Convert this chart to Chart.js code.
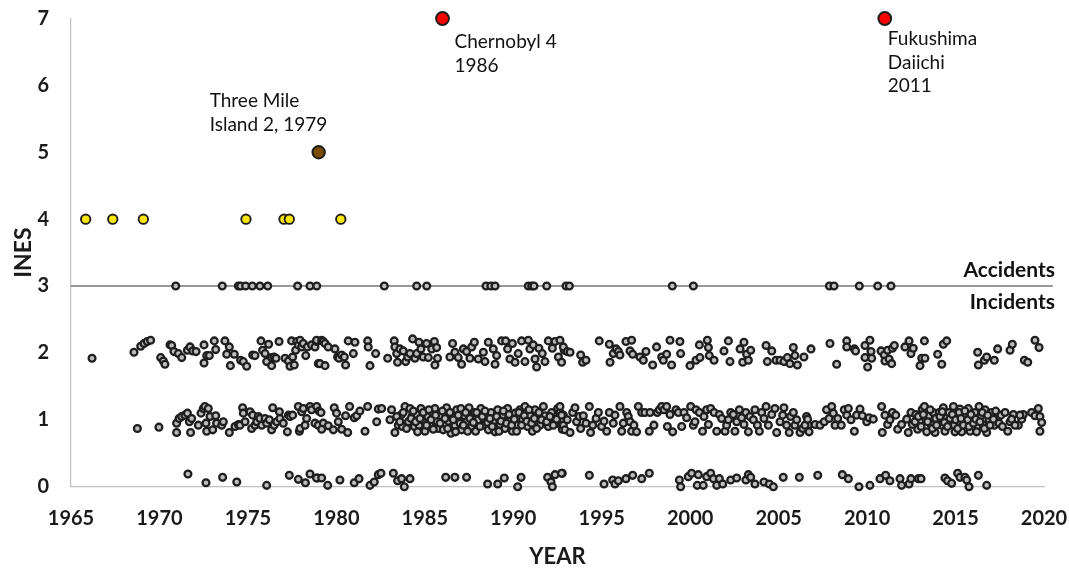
<!DOCTYPE html>
<html>
<head>
<meta charset="utf-8">
<script src="https://cdn.jsdelivr.net/npm/chart.js@4.4.1/dist/chart.umd.min.js"></script>
<style>
html,body{margin:0;padding:0;background:#fff;}
</style>
</head>
<body>
<canvas id="c" width="1069" height="568"></canvas>
<script>
// ---------- DATA (year, INES level) ----------
const xTickYears = [1965, 1970, 1975, 1980, 1985, 1990, 1995, 2000, 2005, 2010, 2015, 2020];
const yTickLevels = [0, 1, 2, 3, 4, 5, 6, 7];

const ines7Points = [[1986, 7], [2011, 7]];
const ines5Points = [[1979, 5]];
const ines4Points = [[1965.83, 4], [1967.36, 4], [1969.09, 4], [1974.89, 4], [1977.04, 4], [1977.34, 4], [1980.25, 4]];
const ines3Points = [[1970.92,3],[1973.55,3],[1974.46,3],[1974.59,3],[1974.87,3],[1975.25,3],[1975.68,3],[1976.12,3],[1977.81,3],[1978.51,3],[1978.89,3],
[1982.71,3],[1984.54,3],[1985.11,3],[1988.46,3],[1988.73,3],[1988.97,3],[1990.85,3],[1991.04,3],[1991.17,3],[1991.89,3],[1992.98,3],[1993.17,3],[1998.99,3],[2000.18,3],
[2007.87,3],[2008.13,3],[2009.56,3],[2010.60,3],[2011.35,3]];

const ines2Points = [
[1966.19,1.92],[1968.56,2.01],[1968.94,2.10],[1969.13,2.14],[1969.31,2.17],[1969.50,2.19],[1970.07,1.93],[1970.22,1.88],[1970.31,1.83],[1970.60,2.12],[1970.69,2.11],[1970.82,2.02],[1971.07,1.99],[1971.26,1.93],[1971.58,2.04],[1971.73,2.09],[1971.88,2.03],[1972.07,2.02],[1972.52,2.12],[1972.52,1.85],[1972.67,1.96],[1972.82,1.96],[1973.10,2.18],[1973.18,2.05],[1973.70,2.18],[1973.80,1.98],[1973.95,2.09],[1974.01,1.81],[1974.23,1.98],[1974.59,1.89],[1974.74,1.87],[1974.93,1.80],[1975.27,1.97],[1975.40,1.96],[1975.74,2.18],[1975.83,2.04],[1975.97,1.99],[1976.06,1.87],[1976.17,2.13],[1976.34,1.93],[1976.34,1.81],[1976.48,1.94],[1976.59,1.92],[1976.76,2.17],[1977.10,1.92],[1977.29,1.88],[1977.38,1.80],[1977.47,2.18],[1977.53,1.94],[1977.62,1.82],[1977.70,2.04],[1977.76,2.17],[1977.85,2.12],[1977.95,2.19],[1978.04,2.09],[1978.13,2.14],[1978.27,1.96],[1978.36,2.09],[1978.60,2.12],[1978.79,2.09],[1978.89,2.17],[1978.98,1.84],
[1978.88,2.19],[1979.17,2.19],[1979.26,2.17],[1979.36,2.14],[1979.54,2.09],[1979.07,1.84],[1979.36,1.81],[1979.92,2.06],[1980.07,1.94],[1980.15,1.92],[1980.30,1.97],[1980.45,1.94],[1980.52,1.82],[1980.67,2.18],[1980.96,1.99],[1981.05,2.16],[1981.77,2.18],[1981.80,2.09],[1981.90,1.81],[1982.22,1.99],[1982.90,1.92],[1983.27,2.18],[1983.31,2.09],[1983.41,1.99],[1983.46,1.86],[1983.59,2.06],[1983.78,2.03],[1983.92,1.87],[1984.03,1.94],[1984.16,1.99],[1984.31,2.21],[1984.44,1.92],[1984.54,1.99],[1984.67,2.16],[1984.78,2.06],[1984.91,1.94],[1985.10,2.14],[1985.20,1.93],[1985.39,2.06],[1985.54,2.17],[1985.67,2.08],[1985.57,1.82],[1985.72,1.92],[1986.42,1.94],[1986.57,2.14],[1986.70,2.01],[1986.89,1.93],[1987.08,1.83],[1987.18,2.06],[1987.36,2.02],[1987.55,1.92],[1987.65,2.09],[1987.80,2.16],[1988.02,1.91],[1988.31,2.01],[1988.40,1.87],[1988.59,2.16],[1988.87,2.06],[1988.97,1.83],[1989.06,1.96],[1989.34,2.18],[1989.57,2.18],[1989.68,2.06],[1989.81,1.91],[1989.95,2.14],[1990.10,1.86],[1990.28,1.99],[1990.47,2.18],[1990.66,1.87],[1990.85,2.19],[1990.94,2.06],[1991.13,2.12],[1991.23,1.91],[1991.32,1.79],[1991.45,2.07],[1991.64,1.99],[1991.79,1.87],[1991.98,2.18],[1992.21,2.07],[1992.36,2.17],[1992.55,1.94],[1992.73,1.86],[1992.88,2.04],
[1992.64,2.19],[1992.83,2.09],[1993.05,2.02],[1993.21,2.01],[1993.81,1.97],[1993.92,1.86],[1994.11,1.89],[1994.86,2.18],[1995.43,2.13],[1995.47,1.86],[1995.65,1.99],[1995.81,2.06],[1995.94,2.02],[1996.03,1.97],[1996.37,2.17],[1996.69,2.19],[1996.60,2.03],[1996.75,1.98],[1997.16,1.94],[1997.35,1.89],[1997.50,2.02],[1997.88,1.82],[1998.10,2.09],[1998.39,1.94],[1998.48,1.89],[1998.67,1.98],[1998.86,2.19],[1998.95,1.82],[1999.42,2.17],[1999.46,1.99],[1999.99,1.81],[2000.33,1.89],[2000.52,2.12],[2000.55,1.93],[2000.97,2.19],[2001.03,2.08],[2001.08,1.96],[2001.35,1.89],[2001.91,2.03],[2002.16,2.18],[2002.25,1.87],[2002.82,2.06],[2002.97,1.86],[2003.04,2.16],[2003.19,1.98],[2003.29,1.89],[2003.42,2.04],[2004.29,2.11],[2004.36,1.87],[2004.61,2.03],[2004.85,1.89],[2005.08,1.89],[2005.30,1.87],[2005.49,1.93],[2005.64,1.84],[2005.83,2.08],[2005.92,1.96],[2006.06,1.82],[2006.43,1.94],
[2006.83,2.06],[2007.90,2.14],[2008.28,1.83],[2008.85,2.18],[2008.85,2.09],[2009.28,2.06],[2009.35,2.03],[2009.88,2.11],[2009.88,1.93],[2010.03,1.79],[2010.16,2.19],[2010.22,2.02],[2010.26,1.92],[2010.79,2.03],[2010.97,1.97],[2011.01,1.88],[2011.16,2.04],[2011.24,1.91],[2011.39,1.84],[2011.43,2.07],[2011.54,2.11],[2012.14,2.09],[2012.37,2.18],[2012.48,1.99],[2012.61,2.07],[2012.99,1.81],[2013.09,1.92],[2013.24,2.18],[2013.27,1.92],[2013.99,1.98],[2014.22,1.83],[2014.31,2.13],[2014.50,2.18],[2016.25,2.01],[2016.29,1.82],[2016.63,1.89],[2016.76,1.94],[2017.19,1.89],[2017.38,2.06],[2018.08,2.04],[2018.21,2.13],[2018.89,1.89],[2019.08,1.86],[2019.49,2.19],[2019.72,2.08]
];

const ines1Points = [
[1968.75,0.87],[1969.97,0.89],[1970.97,0.81],[1970.97,0.95],[1971.11,1.02],[1971.26,1.05],[1971.44,1.07],[1971.58,1.10],[1971.69,0.97],[1971.82,1.02],[1971.76,0.81],[1972.20,0.92],[1972.35,1.10],[1972.48,1.17],[1972.57,1.20],[1972.67,0.83],[1972.76,1.17],[1972.86,1.05],[1972.63,0.95],[1973.01,0.85],[1973.18,1.06],[1973.23,0.95],[1973.52,0.92],[1973.61,0.97],[1973.95,0.81],[1974.27,0.90],[1974.46,0.93],[1974.55,0.92],[1974.70,1.18],[1974.74,1.10],[1974.84,0.97],[1975.12,1.12],[1975.21,0.87],[1975.27,1.07],[1975.40,0.92],[1975.50,0.97],[1975.59,1.05],[1975.68,1.02],[1975.78,0.92],[1975.97,1.02],[1976.06,0.95],[1976.21,1.00],[1976.34,0.85],[1976.40,1.18],[1976.48,0.92],[1976.63,0.97],[1976.78,1.12],[1976.81,1.02],[1977.00,0.95],[1977.23,0.82],[1977.29,1.07],[1977.38,1.05],[1977.53,1.07],[1977.85,1.20],[1977.91,0.83],[1977.95,0.87],[1978.04,1.12],[1978.13,1.17],[1978.23,0.92],[1978.32,1.02],[1978.51,1.20],[1978.60,1.15],[1978.79,0.95],[1978.98,0.92],[1978.89,1.20],
[1979.02,1.13],[1979.13,1.11],[1979.26,0.95],[1979.17,0.86],[1979.54,0.91],[1979.83,0.85],[1979.88,1.18],[1980.01,1.10],[1980.11,0.97],[1980.30,0.86],[1980.52,1.06],[1980.64,0.81],[1980.75,1.20],[1981.01,1.03],[1981.15,1.06],[1981.33,1.13],[1981.62,0.83],[1981.77,1.20],[1982.28,0.97],[1982.37,1.16],[1982.56,1.17],[1983.03,1.00],[1983.12,1.15],[1983.31,0.81],[1983.50,0.92],[1983.65,1.07],[1983.73,0.90],[1983.88,1.20],[1984.07,0.97],[1984.16,1.17],[1984.29,1.06],[1984.41,0.90],[1984.54,1.08],[1984.67,0.92],[1984.78,1.17],[1984.86,1.00],[1985.01,0.83],[1985.16,1.05],[1985.29,0.92],[1985.42,1.11],[1985.57,1.17],[1985.67,0.98],[1985.76,0.87],[1985.91,1.06],[1986.04,0.85],[1986.23,1.18],[1986.33,0.98],[1986.48,0.80],[1986.55,1.07],[1986.70,0.92],[1986.80,1.15],[1986.99,0.95],[1987.08,0.85],[1987.23,1.06],[1987.36,0.97],[1987.50,1.18],[1987.65,0.90],[1987.80,1.11],[1987.87,0.83],[1988.02,1.00],[1988.17,1.17],[1988.31,0.92],[1988.44,1.06],[1988.59,0.85],[1988.74,1.11],[1988.87,0.97],[1988.97,0.82],[1989.12,1.15],[1989.25,0.93],[1989.38,1.06],[1989.53,0.87],[1989.68,1.17],[1989.81,1.00],[1989.95,0.83],[1990.10,1.10],[1990.25,0.92],[1990.38,1.15],[1990.51,1.00],[1990.66,1.20],[1990.81,0.90],[1990.94,1.07],[1991.08,0.83],[1991.23,1.15],[1991.38,0.97],[1991.51,0.92],[1991.70,1.20],[1991.79,1.06],[1991.98,0.90],[1992.17,1.11],[1992.36,0.97],[1992.51,1.17],[1992.70,0.92],[1992.83,1.07],
[1983.41,1.05],[1983.59,0.97],[1983.78,1.11],[1983.97,0.87],[1984.22,1.02],[1984.35,1.13],[1984.48,0.97],[1984.59,0.82],[1984.73,1.02],[1984.91,1.11],[1985.10,0.92],[1985.23,1.15],[1985.35,1.00],[1985.48,0.86],[1985.61,1.07],[1985.86,0.95],[1985.99,1.13],[1986.14,1.02],[1986.29,0.87],[1986.42,1.11],[1986.61,1.00],[1986.74,0.82],[1986.89,1.07],[1987.04,1.17],[1987.18,0.92],[1987.31,1.11],[1987.42,0.83],[1987.55,1.02],[1987.74,0.96],[1987.93,1.11],[1988.12,0.90],[1988.25,1.05],[1988.40,1.13],[1988.55,0.96],[1988.68,1.02],[1988.81,0.90],[1989.06,1.05],[1989.19,0.83],[1989.30,0.98],[1989.44,1.13],[1989.62,0.95],[1989.76,1.08],[1989.91,0.92],[1990.06,1.01],[1990.19,0.83],[1990.32,1.11],[1990.47,0.92],[1990.62,1.06],[1990.76,0.98],[1990.89,1.15],[1991.04,0.95],[1991.19,1.02],[1991.32,0.87],[1991.45,1.11],[1991.60,1.00],[1991.89,0.97],[1992.07,1.05],[1992.26,0.92],[1992.45,1.01],[1992.64,1.11],[1992.77,0.86],
[1992.64,1.20],[1992.73,1.07],[1992.83,0.92],[1992.92,0.85],[1993.05,1.00],[1993.21,0.81],[1993.36,1.11],[1993.49,1.18],[1993.58,0.97],[1993.73,1.05],[1993.81,0.87],[1993.96,1.06],[1994.11,0.95],[1994.30,1.20],[1994.37,0.81],[1994.49,0.92],[1994.68,1.02],[1994.81,1.11],[1994.99,0.90],[1995.13,0.98],[1995.28,0.83],[1995.43,1.11],[1995.65,0.95],[1995.75,1.07],[1996.03,1.20],[1996.13,0.83],[1996.22,0.95],[1996.41,1.11],[1996.50,1.05],[1996.60,0.97],[1996.69,0.83],[1996.82,0.92],[1996.97,0.82],[1997.07,1.20],[1997.26,1.11],[1997.44,1.11],[1997.73,1.11],[1997.69,0.83],[1997.95,0.92],[1998.14,1.11],[1998.26,1.15],[1998.39,1.20],[1998.52,1.15],[1998.67,1.20],[1998.71,0.90],[1998.86,1.08],[1999.01,0.82],[1999.20,1.15],[1999.33,1.11],[1999.52,0.90],[1999.65,1.11],[1999.80,1.03],[2000.03,1.20],[2000.18,0.92],[2000.27,0.97],[2000.33,1.15],[2000.52,1.11],[2000.70,0.83],[2000.78,1.05],[2000.93,1.15],[2001.03,0.93],[2001.16,1.17],[2001.35,1.11],[2001.50,0.83],[2001.65,1.08],[2001.78,1.02],[2001.97,0.83],[2002.06,0.92],[2002.16,1.00],[2002.29,1.11],[2002.44,1.08],[2002.53,0.83],[2002.63,0.97],[2002.78,1.15],[2002.91,1.03],[2003.04,0.93],[2003.15,1.11],[2003.29,0.82],[2003.38,1.05],[2003.57,1.00],[2003.66,1.15],[2003.80,0.92],[2003.91,0.83],[2004.04,1.11],[2004.17,1.02],[2004.29,1.20],[2004.42,0.92],[2004.61,1.08],[2004.79,1.17],[2004.89,0.81],[2005.08,0.97],[2005.23,1.07],[2005.30,1.18],[2005.45,0.92],[2005.60,0.81],[2005.68,1.05],[2005.83,1.11],[2005.92,0.92],[2006.02,1.00],[2006.21,0.81],[2006.36,0.87],[2006.58,1.05],[2006.68,0.92],
[2006.49,0.92],[2006.64,1.01],[2006.72,0.82],[2007.06,0.93],[2007.34,0.92],[2007.58,0.97],[2007.71,1.15],[2007.85,1.02],[2008.00,1.20],[2008.09,1.10],[2008.19,0.92],[2008.34,1.02],[2008.54,0.92],[2008.71,1.15],[2008.85,1.07],[2008.94,1.17],[2009.09,1.00],[2009.28,0.83],[2009.41,1.07],[2009.60,1.16],[2009.73,1.06],[2009.98,0.97],[2010.11,1.03],[2010.35,1.01],[2010.82,1.20],[2010.86,0.81],[2011.01,1.07],[2011.16,0.93],[2011.29,1.00],[2011.43,1.11],[2011.62,1.07],[2011.73,0.86],[2011.95,0.93],[2012.24,1.01],[2012.33,0.81],[2012.48,1.11],[2012.56,0.93],[2012.75,1.08],[2012.86,0.86],[2012.99,0.97],[2013.12,1.16],[2013.24,1.20],[2013.31,1.02],[2013.37,0.82],[2013.50,1.06],[2013.61,0.93],[2013.74,1.11],[2013.84,0.81],[2013.99,1.00],[2014.07,1.11],[2014.22,0.92],[2014.31,1.18],[2014.40,0.83],[2014.50,1.03],[2014.63,1.11],[2014.74,0.93],[2014.88,1.20],[2014.97,0.82],[2015.06,1.07],[2015.16,0.97],[2015.25,1.16],[2015.35,0.82],[2015.50,1.05],[2015.63,0.93],[2015.72,1.17],[2015.82,0.83],[2015.95,1.01],[2016.10,1.11],[2016.25,0.91],[2016.33,1.20],[2016.44,1.06],[2016.57,0.92],[2016.67,1.15],[2016.76,0.81],[2016.89,1.00],[2017.04,1.11],[2017.19,0.92],[2017.38,1.02],[2017.57,1.07],[2017.80,1.11],[2017.95,0.83],[2018.08,0.97],[2018.27,1.08],[2018.55,0.92],[2018.74,1.01],[2018.83,1.08],[2019.30,1.11],[2019.49,1.06],[2019.68,1.17],[2019.77,1.05],[2019.87,0.96],[2019.77,0.83],
[2012.71,0.97],[2012.90,1.05],[2013.05,0.90],[2013.18,1.08],[2013.42,0.97],[2013.56,1.15],[2013.69,0.87],[2013.88,1.02],[2013.93,0.92],[2014.12,1.05],[2014.25,1.12],[2014.37,0.96],[2014.55,0.90],[2014.69,1.02],[2014.82,1.08],[2014.93,0.92],[2015.01,1.00],[2015.12,0.87],[2015.20,1.11],[2015.31,1.02],[2015.44,0.92],[2015.53,1.13],[2015.69,1.00],[2015.76,0.90],[2015.87,1.08],[2016.01,0.95],[2016.14,1.01],[2016.19,0.82],[2016.38,0.97],[2016.51,1.11],[2016.63,0.87],[2016.82,1.07],[2016.95,0.92],[2017.14,1.01],[2017.27,1.13],[2017.46,0.95],[2017.65,0.90],[2018.17,1.01],[2018.36,0.92],[2018.64,1.07]
];

const ines0Points = [
[1971.61,0.19],[1972.63,0.06],[1973.57,0.14],[1974.37,0.07],[1976.06,0.02],[1977.34,0.17],[1977.85,0.11],[1978.25,0.06],[1978.51,0.19],[1978.93,0.13],
[1978.88,0.13],[1979.17,0.13],[1979.51,0.02],[1980.20,0.10],[1981.01,0.06],[1981.28,0.12],[1981.90,0.02],[1982.14,0.07],[1982.37,0.18],[1982.52,0.20],[1983.22,0.20],[1983.46,0.09],[1983.69,0.12],[1983.84,0.00],[1984.16,0.12],[1986.18,0.14],[1986.70,0.14],[1987.36,0.14],[1988.55,0.04],[1989.12,0.04],[1989.49,0.13],[1990.25,0.00],[1990.44,0.14],[1991.94,0.14],[1992.13,0.07],[1992.21,0.00],[1992.36,0.18],[1992.77,0.20],
[1992.73,0.20],[1994.30,0.17],[1995.13,0.04],[1995.62,0.10],[1995.75,0.04],[1995.94,0.09],[1996.37,0.12],[1996.75,0.17],[1997.26,0.12],[1997.69,0.20],[1999.39,0.10],[1999.46,0.00],[1999.89,0.15],[2000.08,0.20],[2000.46,0.18],[2000.40,0.02],[2000.74,0.02],[2000.93,0.15],[2001.16,0.20],[2001.31,0.12],[2001.50,0.02],[2001.65,0.12],[2001.84,0.04],[2002.29,0.10],[2002.63,0.13],[2003.15,0.10],[2003.29,0.18],[2003.42,0.14],[2003.66,0.04],[2004.17,0.07],[2004.47,0.04],[2004.70,0.00],[2005.26,0.14],[2006.17,0.14],
[2007.21,0.17],[2008.60,0.18],[2008.94,0.12],[2009.54,0.00],[2010.16,0.02],[2010.73,0.12],[2011.05,0.17],[2011.29,0.09],[2011.86,0.12],[2011.95,0.02],[2012.37,0.04],[2012.48,0.12],[2012.90,0.12],[2013.05,0.12],[2014.40,0.13],[2014.55,0.09],[2014.78,0.05],[2015.12,0.20],[2015.25,0.14],[2015.53,0.14],[2015.63,0.10],[2015.76,0.00],[2016.29,0.17],[2016.76,0.02]
];

const thresholdLine = [[1965, 3], [2020.5, 3]];
const eventLabels = [
  ["Three Mile", "Island 2, 1979"],
  ["Chernobyl 4", "1986"],
  ["Fukushima", "Daiichi", "2011"]
];
const zoneLabels = ["Accidents", "Incidents"];

// ---------- CHART ----------
const toXY = arr => arr.map(p => ({x: p[0], y: p[1]}));
const EDGE = '#1e1e1e';
const FONT = "Lato, 'Open Sans', sans-serif";

const annotate = {
  id: 'annotate',
  afterDatasetsDraw(chart) {
    const {ctx, scales: {x, y}} = chart;
    ctx.save();
    ctx.fillStyle = '#111111';
    ctx.textBaseline = 'middle';
    ctx.textAlign = 'left';
    ctx.font = "19px " + FONT;
    const lh = 23.5;
    const anchors = [
      {p: ines5Points[0], dx: -109, dy: -51},
      {p: ines7Points[0], dx: 12, dy: 23.5},
      {p: ines7Points[1], dx: 3, dy: 20.5}
    ];
    anchors.forEach((a, i) => {
      const px = x.getPixelForValue(a.p[0]);
      const py = y.getPixelForValue(a.p[1]);
      eventLabels[i].forEach((t, k) => ctx.fillText(t, px + a.dx, py + a.dy + k * lh));
    });
    ctx.font = "bold 21px " + FONT;
    ctx.textAlign = 'right';
    const ly = y.getPixelForValue(thresholdLine[0][1]);
    ctx.fillText(zoneLabels[0], 1055, ly - 16);
    ctx.fillText(zoneLabels[1], 1055, ly + 16);
    ctx.restore();
  }
};

function grayDs(pts) {
  return {type: 'scatter', data: toXY(pts), backgroundColor: '#bdbdbd', borderColor: EDGE,
    borderWidth: 2.3, pointRadius: 3.4, pointHoverRadius: 3.4, clip: false, order: 1};
}

new Chart(document.getElementById('c'), {
  type: 'scatter',
  data: {
    datasets: [
      {data: toXY(ines7Points), backgroundColor: '#ff0000', borderColor: EDGE, borderWidth: 2, pointRadius: 6.4, clip: false, order: 0},
      {data: toXY(ines5Points), backgroundColor: '#7a4a00', borderColor: EDGE, borderWidth: 2, pointRadius: 6.2, clip: false, order: 0},
      {data: toXY(ines4Points), backgroundColor: '#ffe800', borderColor: EDGE, borderWidth: 1.9, pointRadius: 4.7, clip: false, order: 0},
      grayDs(ines3Points),
      grayDs(ines2Points),
      grayDs(ines1Points),
      grayDs(ines0Points),
      {type: 'line', data: toXY(thresholdLine), borderColor: '#333333', borderWidth: 1.1, pointRadius: 0, fill: false, clip: false, order: 5}
    ]
  },
  options: {
    responsive: false,
    animation: false,
    events: [],
    layout: {padding: {left: 4, top: 18.5, right: 25, bottom: 0}},
    plugins: {legend: {display: false}, tooltip: {enabled: false}},
    scales: {
      x: {
        type: 'linear', min: xTickYears[0], max: xTickYears[xTickYears.length - 1],
        afterBuildTicks: s => { s.ticks = xTickYears.map(v => ({value: v})); },
        afterFit: s => { s.height = 81.3; s.paddingLeft = 0; s.paddingRight = 0; },
        grid: {display: true, drawOnChartArea: false, drawTicks: false},
        border: {display: true, color: '#bfbfbf', width: 1.2},
        ticks: {padding: 20, color: '#1a1a1a', font: {family: FONT, size: 20, weight: 'bold'}, callback: v => String(v), maxRotation: 0, autoSkip: false},
        title: {display: true, text: 'YEAR', color: '#1a1a1a', font: {family: FONT, size: 22, weight: 'bold', lineHeight: 1.0}, padding: {top: 0, bottom: 0}}
      },
      y: {
        type: 'linear', min: yTickLevels[0], max: yTickLevels[yTickLevels.length - 1],
        afterBuildTicks: s => { s.ticks = yTickLevels.map(v => ({value: v})); },
        afterFit: s => { s.width = 67; s.paddingTop = 0; s.paddingBottom = 0; },
        grid: {display: true, drawOnChartArea: false, drawTicks: false},
        border: {display: true, color: '#bfbfbf', width: 1.2},
        ticks: {padding: 22, crossAlign: 'near', color: '#1a1a1a', font: {family: FONT, size: 20, weight: 'bold'}},
        title: {display: true, text: 'INES', color: '#1a1a1a', font: {family: FONT, size: 23, weight: 'bold'}, padding: {top: 6, bottom: 0}}
      }
    }
  },
  plugins: [annotate]
});
</script>
</body>
</html>
